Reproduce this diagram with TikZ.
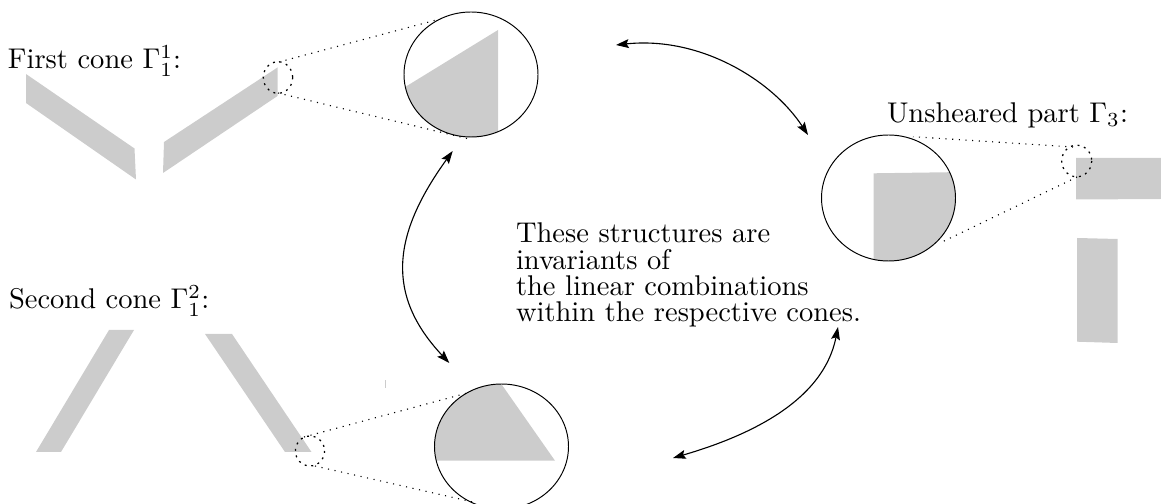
\documentclass[tikz,border=0pt]{standalone}
\usetikzlibrary{arrows.meta}
\newcommand{\lbltext}[1]{\scalebox{1.027}{#1}}
\tikzset{
  band/.style={fill=black!20,draw=none},
  lens/.style={draw=black,line width=0.35pt},
  spot/.style={draw=black,line width=0.45pt,dash pattern=on 0.7pt off 1.7pt},
  ray/.style={draw=black,dotted,line width=0.4pt},
  link/.style={draw=black,line width=0.4pt,{Stealth[length=4.6pt,width=3.2pt,inset=0.8pt]}-{Stealth[length=4.6pt,width=3.2pt,inset=0.8pt]}},
  label/.style={anchor=base west,inner sep=0pt,outer sep=0pt,align=left}
}
\begin{document}
\begin{tikzpicture}[x=0.36pt,y=-0.36pt]
\useasboundingbox (0,0) rectangle (1161,504);
% first cone
\fill[band] (26,74)--(26,103)--(136,179.5)--(134.5,148.5)--cycle;
\fill[band] (164,142)--(163,173)--(277.5,96)--(277.5,67.5)--cycle;
\begin{scope}
\clip (471,74.5) ellipse [x radius=67,y radius=62.5];
\fill[band] (498,30)--(498,130)--(498,160)--(390,160)--(390,96.3)--cycle;
\end{scope}
\draw[lens] (471,74.5) ellipse [x radius=67,y radius=62.5];
\draw[spot] (278,77.5) ellipse [x radius=14.7,y radius=15.8];
\coordinate (a1) at (279,62); \coordinate (b1) at (440,19);
\coordinate (a2) at (278,93); \coordinate (b2) at (469,139);
\draw[ray] (a1)--(b1); \draw[ray] (a2)--(b2);
% second cone
\fill[band] (36,452)--(61,452)--(134,330)--(109,330)--cycle;
\fill[band] (205,334)--(232,334)--(311.5,452)--(285,452)--cycle;
\fill[band] (384.6,380)--(385.6,380)--(385.6,388)--(384.6,388)--cycle;
\begin{scope}
\clip (501.5,446.5) ellipse [x radius=67,y radius=62.5];
\fill[band] (502,385)--(555,460.7)--(420,460.7)--(420,370)--(502,370)--cycle;
\end{scope}
\draw[lens] (501.5,446.5) ellipse [x radius=67,y radius=62.5];
\draw[spot] (310,451) ellipse [x radius=14.6,y radius=15];
\coordinate (c1) at (304,437); \coordinate (d1) at (471,392);
\coordinate (c2) at (315,466); \coordinate (d2) at (473,502);
\draw[ray] (c1)--(d1); \draw[ray] (c2)--(d2);
% unsheared part
\fill[band] (1076,158)--(1161,158)--(1161,199)--(1076,199.5)--cycle;
\fill[band] (1077,238)--(1117.7,239)--(1117.7,343)--(1077,341.7)--cycle;
\begin{scope}
\clip (888.5,198) ellipse [x radius=67,y radius=63];
\fill[band] (873.7,173.3)--(965,172)--(965,270)--(873.7,270)--cycle;
\end{scope}
\draw[lens] (888.5,198) ellipse [x radius=67,y radius=63];
\draw[spot] (1076.7,161) ellipse [x radius=15,y radius=15.8];
\coordinate (e1) at (1073,147); \coordinate (f1) at (913,136.7);
\coordinate (e2) at (1077,177); \coordinate (f2) at (940,243);
\draw[ray] (e1)--(f1); \draw[ray] (e2)--(f2);
% arrows
\coordinate (p1) at (616,45); \coordinate (p2) at (808,135);
\coordinate (q1) at (452.7,151); \coordinate (q2) at (449.3,363);
\coordinate (r1) at (673,458); \coordinate (r2) at (838,327);
\draw[link] (p1) .. controls (700,36) and (772,80) .. (p2);
\draw[link] (q1) .. controls (392,235) and (385.5,295) .. (q2);
\draw[link] (r1) .. controls (745,437) and (823,403) .. (r2);
% labels
\node[label] (t1) at (8,69) {\lbltext{First cone $\Gamma_1^1$:}};
\node[label] (t2) at (9,309) {\lbltext{Second cone $\Gamma_1^2$:}};
\node[label] (t3) at (887,122.7) {\lbltext{Unsheared part $\Gamma_3$:}};
\node[label] (t4) at (516,243) {\lbltext{These structures are}};
\node[label] (t5) at (516,269.4) {\lbltext{invariants of}};
\node[label] (t6) at (516,295.8) {\lbltext{the linear combinations}};
\node[label] (t7) at (516,322) {\lbltext{within the respective cones.}};
\end{tikzpicture}
\end{document}
